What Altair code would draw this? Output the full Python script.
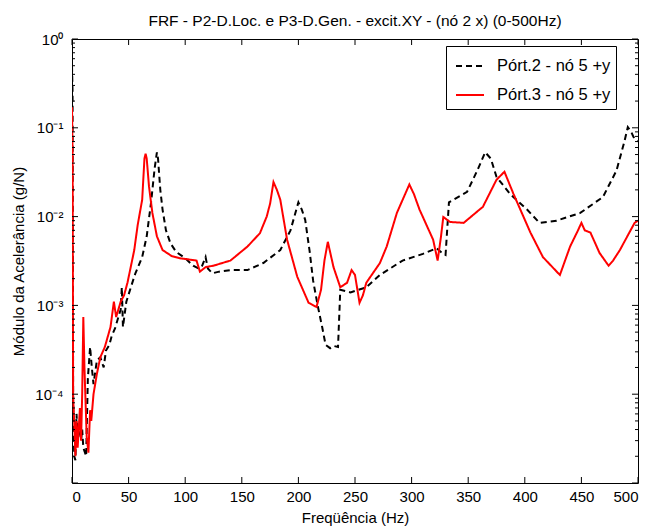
import altair as alt
import pandas as pd

title_text = "FRF - P2-D.Loc. e P3-D.Gen. - excit.XY - (nó 2 x) (0-500Hz)"
x_title = "Freqüência (Hz)"
y_title = "Módulo da Acelerância (g/N)"
series_names = ["Pórt.2 - nó 5 +y", "Pórt.3 - nó 5 +y"]

p2_freq = [0, 0.5, 1, 1.5, 2, 3, 4, 5, 6.5, 8, 9, 10, 12.5, 14, 16, 17.5, 19, 20, 22, 25, 28, 30, 33, 35,
           38, 41, 43, 44, 45, 48, 52, 56, 62, 66, 70, 73, 75, 76, 78, 80, 83, 87, 92, 100, 107, 112, 115,
           118, 120, 124, 130, 140, 155, 169, 184, 193, 200, 203, 206, 210, 213, 217, 221, 224, 228, 231,
           235, 237, 246, 260, 272, 292, 310, 322, 328, 330, 333, 337, 349, 358, 365, 370, 375, 387, 402,
           413, 428, 449, 469, 481, 488, 491, 494, 496, 500]
p2_val = [0.5, 0.25, 8e-5, 4e-5, 2e-5, 1.8e-5, 6e-5, 3e-5, 4.5e-5, 3e-5, 4e-5, 2.5e-5, 2e-5, 1.5e-4,
          3.4e-4, 2e-4, 1.3e-4, 1.6e-4, 2.4e-4, 2.6e-4, 2e-4, 3.1e-4, 3.6e-4, 4.5e-4, 5.5e-4, 7.4e-4,
          9e-4, 1.6e-3, 5.7e-4, 1.1e-3, 1.6e-3, 2.3e-3, 3.5e-3, 6e-3, 0.015, 0.035, 0.053, 0.045, 0.02,
          0.012, 7e-3, 5e-3, 4e-3, 3.4e-3, 2.8e-3, 2.6e-3, 2.8e-3, 3.5e-3, 2.6e-3, 2.3e-3, 2.4e-3,
          2.5e-3, 2.5e-3, 3e-3, 4.2e-3, 7e-3, 0.0145, 0.012, 9.2e-3, 4e-3, 1.9e-3, 1e-3, 5.7e-4, 3.6e-4,
          3.3e-4, 3.5e-4, 3.4e-4, 1.5e-3, 1.4e-3, 1.6e-3, 2.2e-3, 3.2e-3, 3.8e-3, 4.4e-3, 3.8e-3, 3.7e-3,
          0.0145, 0.0155, 0.019, 0.033, 0.053, 0.045, 0.028, 0.018, 0.012, 8.5e-3, 9e-3, 0.011, 0.0166,
          0.033, 0.07, 0.102, 0.09, 0.079, 0.07]

p3_freq = [0, 0.5, 1, 2, 3, 4, 5, 7, 8, 9, 10, 11, 12, 13, 14.5, 16, 17, 19, 22, 25, 29, 34, 37, 39, 43,
           46, 49, 55, 58, 62, 64, 65, 66, 68, 71, 75, 80, 88, 95, 110, 113, 118, 125, 140, 155, 166, 172,
           175, 178, 181, 184, 190, 199, 209, 216, 220, 223, 226, 228, 231, 237, 243, 247, 250, 254, 257,
           260, 272, 278, 287, 298, 302, 307, 319, 323, 326, 328, 334, 346, 363, 375, 382, 390, 405, 416,
           431, 440, 447, 450, 453, 458, 466, 474, 478, 484, 497, 500]
p3_val = [0.17, 0.05, 9e-5, 4.8e-5, 2e-5, 5e-5, 2.5e-5, 7e-5, 3e-5, 1e-4, 7.4e-4, 2e-4, 8e-5, 3.3e-5,
          2.2e-5, 6.6e-5, 5e-5, 1e-4, 1.7e-4, 2.6e-4, 3.4e-4, 5.7e-4, 1.1e-3, 7.4e-4, 1.1e-3, 1.3e-3,
          1.8e-3, 4.2e-3, 8e-3, 0.0155, 0.045, 0.051, 0.045, 0.022, 0.011, 6e-3, 4.2e-3, 3.6e-3, 3.4e-3,
          3.2e-3, 2.4e-3, 2.7e-3, 2.8e-3, 3.2e-3, 4.6e-3, 6.5e-3, 0.01, 0.014, 0.0245, 0.02, 0.0155,
          5.5e-3, 2.1e-3, 1.07e-3, 9.6e-4, 1.5e-3, 3.2e-3, 5.2e-3, 4e-3, 2.7e-3, 1.6e-3, 1.8e-3, 2.5e-3,
          2.2e-3, 1.07e-3, 1.3e-3, 1.8e-3, 3e-3, 4.6e-3, 0.011, 0.023, 0.018, 0.012, 5.5e-3, 3.2e-3,
          6e-3, 9.9e-3, 8.7e-3, 8.5e-3, 0.0129, 0.026, 0.032, 0.018, 6.6e-3, 3.5e-3, 2.2e-3, 4.6e-3,
          7e-3, 8.5e-3, 7e-3, 6.6e-3, 3.9e-3, 2.8e-3, 3.2e-3, 4.2e-3, 8.5e-3, 9e-3]

x_ticks = [0, 50, 100, 150, 200, 250, 300, 350, 400, 450, 500]
y_major = [1e-5, 1e-4, 1e-3, 1e-2, 1e-1, 1]
y_labels = {1: "10⁰", 0.1: "10⁻¹", 0.01: "10⁻²", 0.001: "10⁻³", 0.0001: "10⁻⁴"}
y_minor = [k * d for d in [1e-5, 1e-4, 1e-3, 1e-2, 1e-1] for k in range(2, 10)]

W, H = 566, 444
FONT = "Liberation Sans"

df = pd.concat([
    pd.DataFrame({"f": p2_freq, "v": p2_val, "s": series_names[0], "o": range(len(p2_freq))}),
    pd.DataFrame({"f": p3_freq, "v": p3_val, "s": series_names[1], "o": range(len(p3_freq))}),
])

xs = alt.Scale(domain=[0, 500], nice=False, zero=False)
ys = alt.Scale(type="log", domain=[1e-5, 1], nice=False)

label_expr = " : ".join(
    [f"abs(datum.value - {k}) < {k}*0.01 ? '{v}'" for k, v in y_labels.items()]) + " : ''"

legend = alt.Legend(title=None, orient="none", legendX=374, legendY=7,
                    strokeColor="black", fillColor="white", padding=5,
                    symbolType="stroke", symbolSize=784, symbolStrokeWidth=2, symbolOffset=4,
                    labelFontSize=16.5, labelFont=FONT, labelColor="black",
                    rowPadding=5, labelOffset=12, cornerRadius=0)

lines = alt.Chart(df).mark_line(strokeWidth=2, clip=True).encode(
    x=alt.X("f:Q", scale=xs, title=x_title,
            axis=alt.Axis(values=x_ticks, ticks=False, domain=False, grid=False, labelPadding=6,
                          titlePadding=6, format="d")),
    y=alt.Y("v:Q", scale=ys, title=y_title,
            axis=alt.Axis(values=[1e-4, 1e-3, 1e-2, 1e-1, 1], ticks=False, domain=False, grid=False,
                          labelExpr=label_expr, labelPadding=9, titlePadding=8)),
    color=alt.Color("s:N", scale=alt.Scale(domain=series_names, range=["black", "red"]), legend=legend),
    strokeDash=alt.StrokeDash("s:N", scale=alt.Scale(domain=series_names, range=[[6, 4], [1, 0]]),
                              legend=legend),
    order="o:Q",
)

xt = pd.DataFrame({"t": x_ticks})
ymaj = pd.DataFrame({"t": y_major})
ymin = pd.DataFrame({"t": y_minor})

tick_style = dict(color="black", strokeWidth=1)
xb = alt.Chart(xt).mark_rule(**tick_style).encode(x=alt.X("t:Q", scale=xs), y=alt.value(H), y2=alt.value(H - 6))
xtop = alt.Chart(xt).mark_rule(**tick_style).encode(x=alt.X("t:Q", scale=xs), y=alt.value(0), y2=alt.value(6))
yl = alt.Chart(ymaj).mark_rule(**tick_style).encode(y=alt.Y("t:Q", scale=ys), x=alt.value(0), x2=alt.value(6))
yr = alt.Chart(ymaj).mark_rule(**tick_style).encode(y=alt.Y("t:Q", scale=ys), x=alt.value(W), x2=alt.value(W - 6))
yl2 = alt.Chart(ymin).mark_rule(**tick_style).encode(y=alt.Y("t:Q", scale=ys), x=alt.value(0), x2=alt.value(3))
yr2 = alt.Chart(ymin).mark_rule(**tick_style).encode(y=alt.Y("t:Q", scale=ys), x=alt.value(W), x2=alt.value(W - 3))

chart = alt.layer(lines, xb, xtop, yl, yr, yl2, yr2).properties(
    width=W, height=H,
    title=alt.Title(title_text, fontSize=15.5, font=FONT, fontWeight="normal", color="black", offset=3),
    autosize=alt.AutoSizeParams(type="none"),
    padding={"left": 64, "top": 31, "right": 1, "bottom": 44},
).configure(background="white").configure_view(stroke="black", strokeWidth=1).configure_axis(
    labelFont=FONT, labelFontSize=15, labelColor="black", titleFont=FONT, titleFontSize=15,
    titleColor="black", titleFontWeight="normal"
)

chart.save("out.html", embed_options={"renderer": "svg", "actions": False})
